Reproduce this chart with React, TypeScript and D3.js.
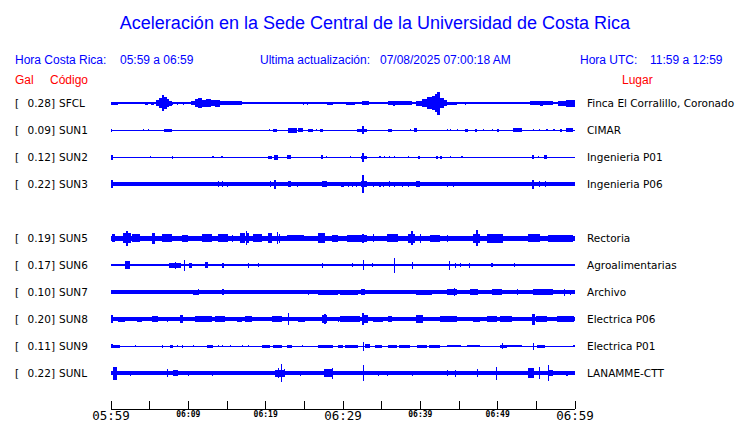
import React from "react";
import * as d3 from "d3";

// ---- data ----
const codes = ["SFCL", "SUN1", "SUN2", "SUN3", "SUN5", "SUN6", "SUN7", "SUN8", "SUN9", "SUNL"];
const galValues = [0.28, 0.09, 0.12, 0.22, 0.19, 0.17, 0.1, 0.2, 0.11, 0.22];
const places = [
  "Finca El Corralillo, Coronado",
  "CIMAR",
  "Ingenieria P01",
  "Ingenieria P06",
  "Rectoria",
  "Agroalimentarias",
  "Archivo",
  "Electrica P06",
  "Electrica P01",
  "LANAMME-CTT",
];
const rowIndex = [0, 1, 2, 3, 5, 6, 7, 8, 9, 10];
const baseNoise = [0.6, 0.5, 0.5, 1.8, 2.5, 1.4, 1.6, 2, 0.5, 1.7];

// bursts: [startMinute, endMinute, amplitude]
const burstsSFCL = [
  [0, 0.9, 1.5], [1.5, 1.65, 1.2], [2.2, 2.35, 1.2], [4.4, 4.8, 1.5], [5.2, 5.6, 1.5],
  [5.8, 6.2, 3], [6.2, 6.6, 5], [6.6, 6.9, 8], [6.9, 7.2, 6], [7.2, 7.5, 4], [7.5, 7.9, 2.5],
  [7.9, 8.05, 1.5], [8.5, 8.65, 1.5], [9.3, 9.45, 1.5],
  [10.3, 10.8, 2], [10.8, 11.3, 4], [11.3, 11.8, 5], [11.8, 12.3, 3.5], [12.3, 12.9, 4], [12.9, 13.5, 3], [13.5, 14.1, 3.5],
  [14.1, 16.9, 1.8], [18.2, 18.35, 1.2], [20.9, 21.05, 1], [24.8, 25.0, 1.5], [25.3, 25.45, 1.5], [26.3, 26.45, 1], [27.9, 28.7, 1.5],
  [30.4, 31.6, 1.5], [32.4, 33.3, 2], [33.9, 34.05, 1.2], [35.8, 38.9, 1.6], [36.5, 36.7, 2.5],
  [39.4, 40.2, 2.5], [40.2, 40.8, 4], [40.8, 41.5, 6], [41.5, 41.9, 7], [41.9, 42.2, 9], [42.2, 42.5, 11.5], [42.5, 43.0, 5], [43.0, 43.5, 3],
  [43.5, 44.8, 1.5], [45.8, 45.95, 1.5], [47.3, 47.45, 1.2], [51.6, 51.75, 1], [52.9, 53.8, 1.3], [54.2, 57.2, 1.7], [55.5, 55.8, 2.5],
  [57.8, 58.8, 2.5], [58.8, 60, 3.5],
];
const burstsSUN1 = [
  [0, 0.15, 1.5], [4.1, 4.25, 1.2], [4.8, 4.95, 1.2], [6.85, 7.9, 1.5], [20.4, 20.55, 1.2], [20.9, 21.5, 1.5], [22.9, 24.1, 2.5],
  [24.2, 24.8, 2], [25.5, 26.1, 1.5], [26.5, 26.65, 1.2], [27.0, 27.4, 1.5], [31.8, 33.1, 1.5], [32.5, 32.7, 4], [35.8, 36.3, 1.5],
  [38.6, 38.75, 1.2], [39.2, 39.6, 1.8], [43.4, 43.55, 1.2], [43.8, 43.95, 1.2], [44.7, 44.85, 1.2], [45.8, 46.2, 1.5], [47.1, 47.3, 1.5],
  [48.1, 48.25, 1.2], [49.3, 49.45, 1.2], [49.9, 50.2, 1.5], [52.0, 53.1, 2], [54.6, 54.75, 1.2], [55.3, 55.45, 1.2], [56.3, 56.45, 1.2],
  [57.2, 57.35, 1.2], [58.1, 58.3, 1.5], [58.8, 59.7, 2],
];
const burstsSUN2 = [
  [0, 0.2, 2.5], [5.0, 5.15, 1.2], [7.9, 8.05, 1.5], [13.1, 13.25, 1], [14.2, 14.5, 1.2], [20.3, 20.8, 1.5], [21.1, 21.6, 2.5],
  [22.8, 23.3, 1.8], [27.2, 27.4, 2], [27.8, 27.95, 1.2], [30.9, 31.05, 1.2], [32.3, 33.1, 1.5], [32.5, 32.7, 4.5], [34.7, 34.85, 1.2],
  [35.3, 35.45, 1.2], [35.9, 36.05, 1.2], [36.6, 36.75, 1.2], [38.4, 38.55, 1.2], [39.7, 39.9, 1.5], [42.0, 42.3, 1.5], [42.6, 42.75, 1.5],
  [43.8, 43.95, 1.2], [45.3, 45.45, 1], [54.4, 54.7, 1.8], [55.2, 55.35, 1.2], [56.0, 56.4, 1.8],
];
const burstsSUN3 = [
  [0, 0.2, 4], [13.8, 13.95, 2.8], [14.3, 14.5, 2.8], [15.0, 15.15, 2.5], [15.1, 20.3, 2.1], [20.5, 20.7, 2.8], [21.1, 21.3, 4.5],
  [22.9, 23.3, 3], [24.0, 24.15, 2.5], [27.3, 27.9, 3], [29.8, 29.95, 2.5], [30.0, 30.15, 2.5], [30.6, 30.75, 2.5], [31.2, 31.35, 2.5],
  [31.7, 31.85, 2.5], [32.3, 33.1, 3], [32.5, 32.7, 9], [33.9, 34.05, 2.5], [34.7, 34.85, 2.5], [35.2, 35.35, 2.5], [35.9, 36.05, 3],
  [36.6, 36.75, 2.5], [37.6, 37.75, 2.5], [38.4, 38.55, 2.5], [39.5, 40.0, 3], [40.6, 42.5, 2.3], [43.4, 43.55, 2.5], [44.2, 44.35, 2.5],
  [48.6, 60, 2.4], [54.5, 54.7, 4.5], [55.3, 55.45, 2.8], [56.1, 56.25, 3.2],
];
const burstsSUN5 = [
  [0.1, 0.5, 4], [1.5, 2.0, 5], [2.0, 2.2, 7.5], [2.2, 2.6, 5], [2.7, 3.8, 4], [5.3, 5.7, 5.5], [6.6, 7.9, 4], [9.2, 9.9, 3.5],
  [11.8, 13.0, 4], [13.9, 15.1, 4], [15.6, 15.75, 3.5], [16.7, 17.3, 5], [17.4, 17.55, 7], [17.6, 17.8, 5], [18.4, 19.5, 4],
  [20.3, 20.8, 5], [21.5, 21.65, 6], [21.7, 21.9, 4.5], [22.8, 24.9, 3.2], [26.8, 27.7, 5], [28.6, 29.4, 3.5], [30.5, 33.1, 3.5],
  [32.5, 32.7, 4.5], [33.9, 34.05, 4], [35.7, 37.1, 4], [38.4, 39.3, 4.5], [38.85, 39.0, 7], [39.9, 40.05, 4.5], [41.2, 42.5, 3.5],
  [43.4, 43.55, 3.5], [46.8, 47.7, 4.5], [47.25, 47.4, 8], [48.6, 50.7, 4.5], [53.9, 55.5, 4], [56.5, 59.8, 3.5],
];
const burstsSUN6 = [
  [1.8, 2.5, 4], [7.5, 9.0, 2.5], [8.3, 8.45, 3.5], [9.4, 9.55, 5.5], [10.1, 10.5, 2.5], [12.2, 12.6, 3], [14.3, 14.6, 2.5],
  [17.7, 17.85, 2.5], [19.0, 19.15, 2], [27.3, 27.45, 2.5], [31.2, 31.35, 2], [32.55, 32.7, 5], [33.7, 33.85, 2], [36.6, 36.75, 7.5],
  [38.9, 39.05, 3.5], [43.7, 43.85, 4.5], [44.45, 44.6, 2.5], [45.1, 45.25, 2], [46.3, 46.45, 2.5], [49.2, 49.35, 2], [52.1, 52.25, 2],
];
const burstsSUN7 = [
  [3.1, 3.25, 2], [5.6, 6.1, 2], [7.9, 8.05, 1.8], [10.6, 11.3, 2.5], [11.2, 11.35, 3.3], [12.2, 13.1, 2], [14.4, 14.55, 2.8],
  [15.6, 15.75, 2], [16.7, 16.85, 2], [18.2, 19.0, 2.3], [21.2, 21.35, 2.2], [22.8, 22.95, 2], [24.1, 24.5, 2.2], [25.5, 25.65, 2.5],
  [26.8, 29.4, 2.5], [29.6, 31.9, 2.5], [32.3, 32.8, 3], [33.9, 34.6, 2], [35.7, 36.1, 2], [37.4, 37.8, 2.2], [39.5, 41.5, 2.5],
  [43.4, 44.7, 3], [44.3, 44.45, 4], [46.4, 47.5, 2.8], [49.3, 50.6, 2.8], [52.5, 52.65, 3], [54.6, 57.1, 3], [58.6, 58.75, 3.5],
  [59.3, 59.45, 2.5],
];
const burstsSUN8 = [
  [0, 0.3, 4], [0.9, 1.8, 2.5], [3.3, 4.0, 2.5], [5.3, 6.1, 3], [7.2, 7.35, 2.5], [8.9, 9.3, 4], [10.9, 13.1, 3], [13.4, 14.7, 3],
  [16.3, 16.9, 2.5], [17.3, 18.2, 3], [20.8, 22.1, 3], [22.85, 23.0, 6], [24.2, 25.1, 2.5], [27.3, 27.9, 4], [27.6, 27.75, 5],
  [29.3, 29.45, 2.5], [29.6, 32.2, 2.7], [32.4, 33.2, 4], [32.5, 32.7, 6], [33.9, 35.2, 2.5], [35.8, 36.3, 3], [39.5, 40.3, 4],
  [42.5, 44.7, 2.7], [46.8, 47.7, 2.5], [48.6, 49.9, 3], [50.3, 51.9, 3], [54.4, 54.8, 5.5], [55.0, 56.4, 3], [57.7, 59.9, 2.7],
];
const burstsSUN9 = [
  [0, 0.2, 2], [0.1, 1.2, 1.5], [3.1, 3.25, 1], [6.6, 6.75, 1.5], [7.6, 8.0, 1.5], [8.5, 8.65, 1.2], [9.2, 9.35, 1.5],
  [10.6, 10.75, 1.2], [12.4, 13.2, 1.5], [13.8, 13.95, 1.2], [14.35, 14.5, 1.2], [15.4, 15.55, 1.2], [16.9, 17.05, 1.2],
  [17.7, 17.85, 1.2], [19.5, 20.6, 1.5], [20.9, 22.1, 1.5], [22.8, 23.4, 1.5], [24.7, 24.85, 1.2], [26.8, 28.7, 1.5],
  [29.4, 30.0, 1.5], [30.3, 31.9, 1.5], [32.55, 32.7, 4.5], [32.8, 33.5, 2], [34.1, 35.1, 1.5], [35.8, 37.0, 1.5], [37.3, 38.7, 1.5],
  [39.6, 40.8, 1.5], [41.1, 42.5, 1.5], [43.4, 45.2, 1.3], [46.0, 47.7, 1.3], [50.3, 51.2, 1.5], [50.5, 50.65, 3], [51.2, 53.1, 1.3],
  [54.55, 54.7, 3.5], [55.1, 56.1, 1.5], [59.8, 60, 1.2],
];
const burstsSUNL = [
  [0.3, 0.8, 6.5], [2.4, 2.55, 2.5], [7.2, 7.35, 4], [8.0, 8.7, 2.8], [9.9, 10.05, 2.5], [13.0, 13.15, 2.5], [17.3, 17.45, 2.2],
  [21.2, 22.5, 3.5], [21.55, 21.7, 5], [21.95, 22.1, 9], [22.4, 22.55, 4], [24.4, 24.55, 2.5], [27.6, 28.7, 4], [28.55, 28.7, 5.5],
  [32.55, 32.7, 8], [34.5, 34.65, 2.5], [35.7, 35.85, 2.5], [38.9, 39.05, 2.5], [39.5, 39.65, 2], [43.4, 43.55, 3], [44.45, 44.6, 3.5],
  [47.3, 47.45, 4], [49.75, 49.9, 6.5], [51.3, 51.45, 2], [53.9, 54.7, 5], [55.35, 55.5, 6], [56.5, 56.65, 8], [56.7, 57.2, 3],
  [58.9, 59.05, 2.5],
];
const bursts = [
  burstsSFCL, burstsSUN1, burstsSUN2, burstsSUN3, burstsSUN5,
  burstsSUN6, burstsSUN7, burstsSUN8, burstsSUN9, burstsSUNL,
];

const tickMinutes = d3.range(0, 61, 5);
const labelMinutes = [0, 10, 20, 30, 40, 50, 60];
const tickLabels = ["05:59", "06:09", "06:19", "06:29", "06:39", "06:49", "06:59"];
const majorLabels = ["05:59", "06:29", "06:59"];

const BLUE = "#0000ff";
const RED = "#ff0000";

export default function App() {
  const W = 740, H = 423;
  const x = d3.scaleLinear().domain([0, 60]).range([111, 575]);
  const rowY = d3.scaleLinear().domain([0, 10]).range([103, 373]);
  const amp = d3.scaleLinear().domain([0, 1]).range([0, 1]);
  const axisY = 409;
  const labelFont = "'DejaVu Sans', sans-serif";
  const headFont = "'Liberation Sans', Arial, sans-serif";

  return (
    <svg width={W} height={H} style={{ position: "absolute", left: 0, top: 0, background: "#fff" }}>
      <rect x={0} y={0} width={W} height={H} fill="#fff" />
      <text x={375} y={29} textAnchor="middle" fontFamily={headFont} fontSize={18} fill={BLUE}>
        Aceleración en la Sede Central de la Universidad de Costa Rica
      </text>
      <g fontFamily={headFont} fontSize={12} fill={BLUE}>
        <text x={15} y={64}>Hora Costa Rica:</text>
        <text x={120} y={64}>05:59 a 06:59</text>
        <text x={260} y={64}>Ultima actualización:</text>
        <text x={380} y={64}>07/08/2025 07:00:18 AM</text>
        <text x={580} y={64}>Hora UTC:</text>
        <text x={650} y={64}>11:59 a 12:59</text>
      </g>
      <g fontFamily={headFont} fontSize={12} fill={RED}>
        <text x={15} y={84}>Gal</text>
        <text x={50} y={84}>Código</text>
        <text x={622} y={84}>Lugar</text>
      </g>

      {codes.map((c, i) => {
        const cy = rowY(rowIndex[i]);
        const b = baseNoise[i];
        return (
          <g key={c}>
            <text x={15} y={cy + 4} fontFamily={labelFont} fontSize={10.5} fill="#000">[</text>
            <text x={55} y={cy + 4} textAnchor="end" fontFamily={labelFont} fontSize={10.5} fill="#000">
              {galValues[i].toFixed(2) + "]"}
            </text>
            <text x={59} y={cy + 4} fontFamily={labelFont} fontSize={10.5} fill="#000">{c}</text>
            <text x={587} y={cy + 4} fontFamily={labelFont} fontSize={10.5} fill="#000">{places[i]}</text>
            <g fill={BLUE} shapeRendering="crispEdges">
              <rect x={x(0)} y={cy - Math.max(0.5, amp(b))} width={x(60) - x(0)} height={Math.max(1, 2 * amp(b))} />
              {bursts[i].map((d, j) => {
                const x0 = x(d[0]);
                const w = Math.max(1.2, x(d[1]) - x0);
                const a = amp(d[2]);
                return <rect key={j} x={x0} y={cy - a} width={w} height={2 * a} />;
              })}
            </g>
          </g>
        );
      })}

      <g stroke="#000" strokeWidth={1} shapeRendering="crispEdges">
        <line x1={x(0)} x2={x(60)} y1={axisY} y2={axisY} />
        {tickMinutes.map((t) => (
          <line key={t} x1={x(t)} x2={x(t)} y1={axisY} y2={axisY - 8} />
        ))}
      </g>
      {labelMinutes.map((t, i) => {
        const lbl = tickLabels[i];
        const major = majorLabels.includes(lbl);
        return (
          <text
            key={t}
            x={x(t)}
            y={major ? 420 : 417}
            textAnchor="middle"
            fontFamily="'DejaVu Sans Mono', monospace"
            fontSize={major ? 12.5 : 8}
            fontWeight={major ? "normal" : "bold"}
            fill="#000"
          >
            {lbl}
          </text>
        );
      })}
    </svg>
  );
}
